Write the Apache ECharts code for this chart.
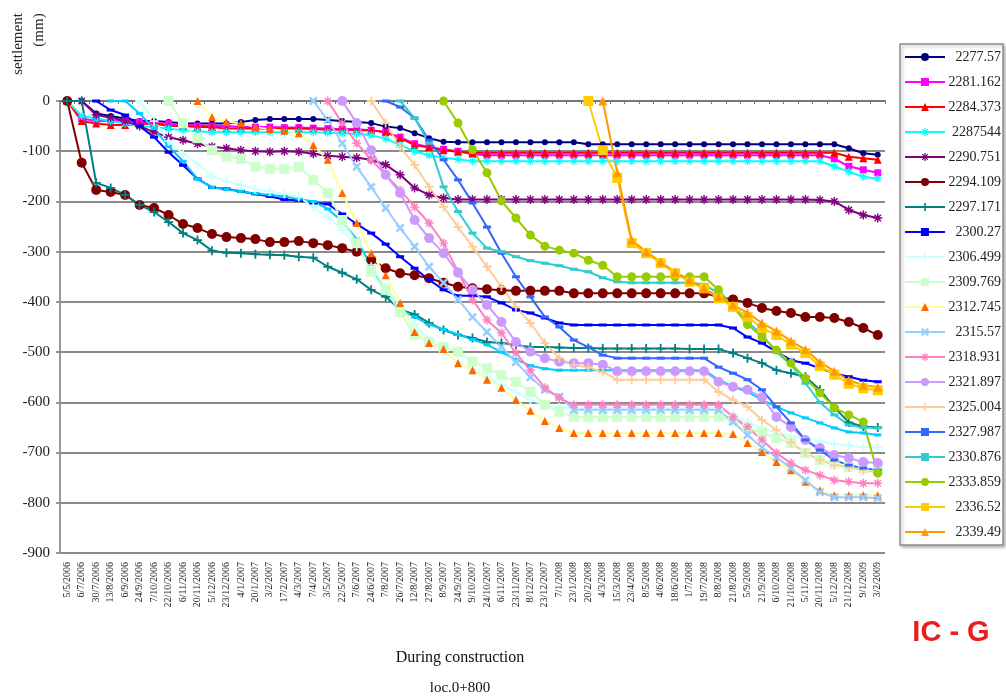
<!DOCTYPE html>
<html>
<head>
<meta charset="utf-8">
<script src="https://cdn.jsdelivr.net/npm/echarts@6/dist/echarts.min.js"></script>
<style>
  html, body { margin: 0; padding: 0; background: #fff; }
  #chart { width: 1006px; height: 698px; }
</style>
</head>
<body>
<div id="chart"></div>
<script>
// dates of the readings (x axis)
const dates = [
  '5/5/2006', '6/7/2006', '30/7/2006', '13/8/2006', '6/9/2006', '24/9/2006', '7/10/2006', '22/10/2006',
  '6/11/2006', '20/11/2006', '5/12/2006', '23/12/2006', '4/1/2007', '20/1/2007', '3/2/2007', '17/2/2007',
  '4/3/2007', '7/4/2007', '3/5/2007', '22/5/2007', '7/6/2007', '24/6/2007', '7/8/2007', '26/7/2007',
  '12/8/2007', '27/8/2007', '8/9/2007', '24/9/2007', '9/10/2007', '24/10/2007', '6/11/2007', '23/11/2007',
  '8/12/2007', '23/12/2007', '7/1/2008', '23/1/2008', '20/2/2008', '4/3/2008', '15/3/2008', '23/4/2008',
  '8/5/2008', '4/6/2008', '18/6/2008', '1/7/2008', '19/7/2008', '8/8/2008', '21/8/2008', '5/9/2008',
  '21/9/2008', '6/10/2008', '21/10/2008', '5/11/2008', '20/11/2008', '5/12/2008', '21/12/2008', '9/1/2009',
  '3/2/2009'
];

// settlement (mm) of each station
const s2277_57 = [0, 0, -25, -30, -35, -40, -40, -42, -45, -45,
  -45, -45, -42, -38, -36, -36, -36, -36, -38, -40,
  -42, -44, -51, -54, -64, -74, -81, -82, -82, -82,
  -82, -82, -82, -82, -82, -82, -86, -86, -86, -86,
  -86, -86, -86, -86, -86, -86, -86, -86, -86, -86,
  -86, -86, -86, -86, -94, -104, -107];
const s2281_162 = [0, -35, -40, -40, -40, -42, -45, -45, -48, -50,
  -50, -50, -52, -52, -52, -53, -53, -54, -55, -56,
  -56, -58, -62, -72, -85, -92, -96, -100, -106, -108,
  -108, -108, -108, -108, -108, -108, -108, -108, -108, -108,
  -108, -108, -108, -108, -108, -108, -108, -108, -108, -108,
  -108, -108, -108, -115, -130, -137, -143];
const s2284_373 = [0, -40, -45, -48, -48, -46, -45, -50, -50, -52,
  -52, -55, -55, -55, -55, -55, -55, -56, -57, -57,
  -58, -58, -62, -74, -88, -92, -98, -101, -103, -103,
  -103, -103, -103, -103, -103, -103, -103, -103, -103, -103,
  -103, -103, -103, -103, -103, -103, -103, -103, -103, -103,
  -103, -103, -103, -103, -111, -114, -117];
const s2287544 = [0, -30, -35, -40, -45, -50, -52, -55, -58, -60,
  -62, -62, -62, -62, -62, -62, -62, -62, -63, -64,
  -65, -68, -75, -88, -100, -108, -113, -116, -120, -120,
  -120, -120, -120, -120, -120, -120, -120, -120, -120, -120,
  -120, -120, -120, -120, -120, -120, -120, -120, -120, -120,
  -120, -120, -120, -130, -141, -151, -155];
const s2290_751 = [0, 0, -28, -33, -40, -50, -62, -72, -78, -85,
  -91, -94, -98, -100, -101, -100, -101, -105, -109, -111,
  -113, -117, -127, -147, -173, -187, -193, -196, -196, -196,
  -196, -196, -196, -196, -196, -196, -196, -196, -196, -196,
  -196, -196, -196, -196, -196, -196, -196, -196, -196, -196,
  -196, -196, -197, -200, -217, -227, -233];
const s2294_109 = [0, -123, -177, -181, -187, -207, -213, -227, -245, -253,
  -265, -271, -273, -275, -281, -281, -279, -283, -287, -293,
  -300, -316, -333, -343, -347, -353, -362, -370, -373, -375,
  -377, -378, -378, -378, -378, -383, -383, -383, -383, -383,
  -383, -383, -383, -383, -383, -390, -395, -402, -412, -418,
  -422, -430, -430, -432, -440, -452, -466];
const s2297_171 = [0, 0, -163, -173, -187, -207, -221, -241, -263, -277,
  -298, -302, -303, -305, -306, -307, -310, -312, -330, -342,
  -355, -376, -390, -415, -425, -442, -456, -466, -472, -480,
  -482, -486, -490, -490, -491, -492, -492, -493, -493, -493,
  -493, -493, -493, -494, -494, -494, -502, -512, -522, -536,
  -542, -549, -575, -610, -640, -648, -650];
const s2300_27a = [null, null, 0, -18, -28, -50, -72, -102, -128, -155,
  -172, -175, -180, -185, -190, -196, -198, -203, -205, -225,
  -245, -263, -285, -310, -333, -356, -376, -388, -388, -390,
  -402, -416, -422, -432, -442, -446, -446, -446, -446, -446,
  -446, -446, -446, -446, -446, -446, -452, -470, -482, -499,
  -516, -522, -532, -542, -549, -556, -559];
const s2300_27b = [null, null, null, 0, 0, -25, -55, -90, -120, -155,
  -172, -176, -180, -184, -187, -190, -195, -200, -215, -240,
  -275, -330, -380, -415, -430, -445, -455, -465, -475, -485,
  -500, -515, -527, -533, -536, -536, -536, -536, -536, -536,
  -536, -536, -536, -536, -536, -555, -569, -579, -595, -609,
  -621, -631, -641, -651, -659, -661, -665];
const s2306_499 = [null, null, null, null, null, 0, -40, -80, -105, -125,
  -150, -160, -167, -175, -180, -185, -191, -211, -231, -257,
  -290, -330, -370, -410, -445, -475, -500, -520, -535, -550,
  -565, -580, -595, -605, -610, -612, -612, -612, -612, -612,
  -612, -612, -612, -612, -612, -612, -625, -640, -650, -660,
  -667, -672, -678, -683, -686, -689, -690];
const s2309_769 = [null, null, null, null, null, null, null, 0, -44, -74,
  -98, -111, -115, -131, -135, -135, -131, -157, -183, -237,
  -283, -340, -376, -420, -466, -480, -490, -499, -519, -532,
  -546, -559, -579, -605, -619, -629, -629, -629, -629, -629,
  -629, -629, -629, -629, -629, -629, -635, -651, -661, -671,
  -681, -701, -715, -722, -729, -732, -735];
const s2312_745 = [null, null, null, null, null, null, null, null, null, 0,
  -32, -42, -44, -52, -56, -59, -64, -88, -117, -183,
  -243, -303, -347, -402, -460, -482, -494, -522, -536, -555,
  -571, -595, -617, -637, -651, -661, -661, -661, -661, -661,
  -661, -661, -661, -661, -661, -661, -663, -681, -699, -719,
  -735, -758, -775, -785, -785, -785, -785];
const s2315_57 = [null, null, null, null, null, null, null, null, null, null,
  null, null, null, null, null, null, null, 0, -38, -84,
  -131, -171, -213, -253, -290, -330, -362, -395, -430, -460,
  -490, -520, -550, -575, -589, -615, -615, -615, -615, -615,
  -615, -615, -615, -615, -615, -615, -639, -665, -690, -709,
  -731, -755, -779, -789, -789, -789, -791];
const s2318_931 = [null, null, null, null, null, null, null, null, null, null,
  null, null, null, null, null, null, null, null, 0, -44,
  -84, -117, -147, -177, -211, -243, -283, -340, -396, -436,
  -462, -502, -536, -571, -591, -605, -605, -605, -605, -605,
  -605, -605, -605, -605, -605, -605, -629, -649, -675, -701,
  -721, -735, -745, -755, -758, -761, -761];
const s2321_897 = [null, null, null, null, null, null, null, null, null, null,
  null, null, null, null, null, null, null, null, null, 0,
  -44, -98, -147, -183, -237, -273, -303, -342, -376, -406,
  -440, -480, -499, -512, -519, -522, -522, -525, -538, -538,
  -538, -538, -538, -538, -538, -559, -569, -575, -590, -629,
  -649, -675, -691, -705, -711, -719, -721];
const s2325_004 = [null, null, null, null, null, null, null, null, null, null,
  null, null, null, null, null, null, null, null, null, null,
  null, 0, -44, -92, -127, -171, -211, -251, -290, -330,
  -370, -410, -442, -482, -512, -526, -530, -540, -555, -555,
  -555, -555, -555, -555, -555, -579, -595, -609, -635, -655,
  -680, -700, -715, -725, -730, -735, -740];
const s2327_987 = [null, null, null, null, null, null, null, null, null, null,
  null, null, null, null, null, null, null, null, null, null,
  null, null, 0, -12, -34, -78, -117, -157, -203, -251,
  -303, -350, -390, -430, -450, -476, -490, -506, -512, -512,
  -512, -512, -512, -512, -512, -530, -542, -555, -575, -609,
  -641, -675, -695, -715, -725, -731, -735];
const s2330_876 = [null, null, null, null, null, null, null, null, null, null,
  null, null, null, null, null, null, null, null, null, null,
  null, null, null, 0, -34, -84, -171, -220, -263, -293,
  -300, -310, -318, -323, -328, -335, -340, -352, -360, -362,
  -362, -362, -362, -362, -365, -383, -410, -440, -465, -500,
  -525, -562, -600, -625, -645, -650, -651];
const s2333_859 = [null, null, null, null, null, null, null, null, null, null,
  null, null, null, null, null, null, null, null, null, null,
  null, null, null, null, null, null, 0, -44, -97, -143,
  -199, -233, -267, -289, -297, -303, -317, -327, -350, -350,
  -350, -350, -350, -350, -350, -376, -410, -445, -470, -496,
  -522, -552, -581, -611, -625, -639, -741];
const s2336_52 = [null, null, null, null, null, null, null, null, null, null,
  null, null, null, null, null, null, null, null, null, null,
  null, null, null, null, null, null, null, null, null, null,
  null, null, null, null, null, null, 0, -98, -153, -283,
  -303, -323, -343, -360, -373, -393, -410, -430, -452, -466,
  -485, -502, -528, -545, -563, -572, -576];
const s2339_49 = [null, null, null, null, null, null, null, null, null, null,
  null, null, null, null, null, null, null, null, null, null,
  null, null, null, null, null, null, null, null, null, null,
  null, null, null, null, null, null, null, 0, -143, -277,
  -300, -320, -341, -356, -373, -390, -406, -422, -442, -458,
  -478, -495, -520, -538, -556, -566, -570];

const yTicks = [0, -100, -200, -300, -400, -500, -600, -700, -800, -900];

// marker shapes
const X_MARK = 'path://M0,2L2,0L5,3L8,0L10,2L7,5L10,8L8,10L5,7L2,10L0,8L3,5Z';
const PLUS_MARK = 'path://M4,0H6V4H10V6H6V10H4V6H0V4H4Z';
const STAR_MARK = 'path://M4.2,0H5.8V3.1L8,0.9L9.1,2L6.9,4.2H10V5.8H6.9L9.1,8L8,9.1L5.8,6.9V10H4.2V6.9L2,9.1L0.9,8L3.1,5.8H0V4.2H3.1L0.9,2L2,0.9L4.2,3.1Z';

const chart = echarts.init(document.getElementById('chart'));

function line(name, data, color, symbol, size, markColor) {
  return {
    name: name,
    type: 'line',
    data: data,
    symbol: symbol,
    symbolSize: size,
    lineStyle: { color: color, width: 2 },
    itemStyle: { color: markColor || color },
    emphasis: { disabled: true },
    animation: false
  };
}

const series = [
  line('2277.57', s2277_57, '#000080', 'circle', 6),
  line('2281.162', s2281_162, '#ff00ff', 'rect', 7),
  line('2284.373', s2284_373, '#ff0000', 'triangle', 8),
  line('2287544', s2287544, '#00ffff', STAR_MARK, 8),
  line('2290.751', s2290_751, '#800080', STAR_MARK, 9),
  line('2294.109', s2294_109, '#800000', 'circle', 10),
  line('2297.171', s2297_171, '#008080', PLUS_MARK, 9),
  line('2300.27', s2300_27a, '#0000ff', 'rect', [8, 3]),
  line('2300.27', s2300_27b, '#00ccff', 'rect', [7, 3]),
  line('2306.499', s2306_499, '#ccffff', PLUS_MARK, 9),
  line('2309.769', s2309_769, '#ccffcc', 'rect', 10),
  line('2312.745', s2312_745, '#ffff99', 'triangle', 8, '#ff6600'),
  line('2315.57', s2315_57, '#99ccff', X_MARK, 9),
  line('2318.931', s2318_931, '#ff80c0', STAR_MARK, 9),
  line('2321.897', s2321_897, '#cc99ff', 'circle', 10),
  line('2325.004', s2325_004, '#ffcc99', PLUS_MARK, 9),
  line('2327.987', s2327_987, '#3366ff', 'rect', [8, 3]),
  line('2330.876', s2330_876, '#33cccc', 'rect', [8, 3]),
  line('2333.859', s2333_859, '#99cc00', 'circle', 9),
  line('2336.52', s2336_52, '#ffcc00', 'rect', 10),
  line('2339.49', s2339_49, '#ff9900', 'triangle', 9)
];

const serif = '"Liberation Serif", "DejaVu Serif", serif';

chart.setOption({
  backgroundColor: '#ffffff',
  animation: false,
  grid: { left: 60, right: 121, top: 101, bottom: 145 },
  legend: {
    orient: 'vertical',
    left: 900,
    top: 44,
    padding: [6, 2, 6, 4],
    itemWidth: 40,
    itemHeight: 10,
    itemGap: 11,
    borderColor: '#8c8c8c',
    borderWidth: 1.5,
    shadowColor: 'rgba(0,0,0,0.25)',
    shadowBlur: 3,
    shadowOffsetX: 2,
    shadowOffsetY: 2,
    backgroundColor: '#ffffff',
    selectedMode: false,
    formatter: function (name) { return '{t|' + name + '}'; },
    textStyle: {
      fontFamily: serif, fontSize: 14, color: '#222', lineHeight: 14,
      rich: { t: { width: 51, align: 'right', fontFamily: serif, fontSize: 14, color: '#222', lineHeight: 14 } }
    }
  },
  xAxis: [{
    type: 'category',
    data: dates,
    boundaryGap: true,
    axisLine: { show: true, lineStyle: { color: '#bbbbbb', width: 2 } },
    axisTick: { show: false },
    axisLabel: {
      interval: 0,
      rotate: 90,
      margin: 9,
      fontFamily: serif,
      fontSize: 10,
      color: '#222'
    },
    splitLine: { show: false }
  }, {
    type: 'category',
    data: dates,
    position: 'top',
    boundaryGap: true,
    axisLine: { show: true, lineStyle: { color: '#777777', width: 2 } },
    axisTick: { show: true, inside: true, length: 3, interval: 0, lineStyle: { color: '#777', width: 1 } },
    axisLabel: { show: false },
    splitLine: { show: false }
  }],
  yAxis: {
    type: 'value',
    min: yTicks[yTicks.length - 1],
    max: yTicks[0],
    interval: 100,
    axisLine: { show: true, lineStyle: { color: '#999999', width: 2 } },
    axisTick: { show: true, length: 4, lineStyle: { color: '#777', width: 1.5 } },
    axisLabel: { fontFamily: serif, fontSize: 15, color: '#222', margin: 10 },
    splitLine: { show: true, lineStyle: { color: '#8a8a8a', width: 2 } }
  },
  graphic: [
    { type: 'text', x: 18, y: 44, rotation: Math.PI / 2,
      style: { text: 'settlement', font: '15px ' + serif, fill: '#222', align: 'center', verticalAlign: 'middle' } },
    { type: 'text', x: 39, y: 30, rotation: Math.PI / 2,
      style: { text: '(mm)', font: '15px ' + serif, fill: '#222', align: 'center', verticalAlign: 'middle' } },
    { type: 'text', x: 460, y: 658,
      style: { text: 'During construction', font: '16px ' + serif, fill: '#111', align: 'center', verticalAlign: 'middle' } },
    { type: 'text', x: 460, y: 688,
      style: { text: 'loc.0+800', font: '15px ' + serif, fill: '#111', align: 'center', verticalAlign: 'middle' } },
    { type: 'text', x: 951, y: 633,
      style: { text: 'IC - G', font: 'bold 29px "Liberation Sans", Arial, sans-serif', fill: '#ee1c1c', align: 'center', verticalAlign: 'middle' } }
  ],
  series: series
});
</script>
</body>
</html>
